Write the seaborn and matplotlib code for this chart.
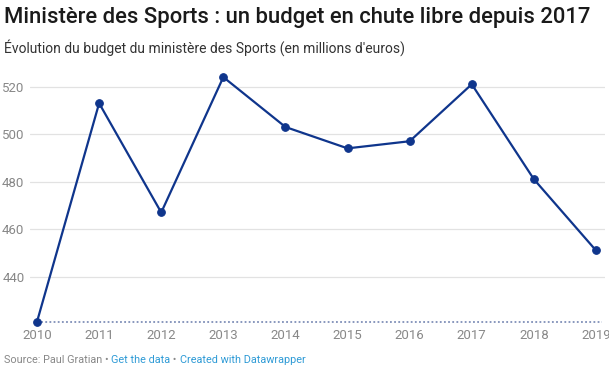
import numpy as np
import pandas as pd
import matplotlib
matplotlib.use("Agg")
import matplotlib.pyplot as plt
import seaborn as sns

# --- DATA --- #
years = [2010, 2011, 2012, 2013, 2014, 2015, 2016, 2017, 2018, 2019]
budget = [421, 513, 467, 524, 503, 494, 497, 521, 481, 451]
y_ticks = [440, 460, 480, 500, 520]

title = "Ministère des Sports : un budget en chute libre depuis 2017"
subtitle = "Évolution du budget du ministère des Sports (en millions d'euros)"

df = pd.DataFrame({"year": years, "budget": budget})

sns.set_theme(style="white")
plt.rcParams["font.family"] = ["Roboto", "DejaVu Sans"]

W, H = 609, 366
fig = plt.figure(figsize=(W / 100, H / 100), dpi=100)

# axes placed in pixel terms
left_px, right_px = 30, 605
top_px, bottom_px = 70, 321.7
ax = fig.add_axes([left_px / W, 1 - bottom_px / H,
                   (right_px - left_px) / W, (bottom_px - top_px) / H])

line_col = "#0f358c"
sns.lineplot(data=df, x="year", y="budget", ax=ax, color=line_col,
             linewidth=1.6, marker="o", markersize=5.5,
             markeredgecolor=line_col, markerfacecolor=line_col)
for ln in ax.lines:
    ln.set_clip_on(False)
    ln.set_zorder(5)

ax.set_xlim(2009.887, 2019.145)
ax.set_ylim(421, 527)

# --- GRID --- #
for t in y_ticks:
    ax.axhline(t, color="#e2e2e2", linewidth=0.9, zorder=1)
ax.plot([years[0], 2019.1], [min(budget), min(budget)], ls=(0, (1, 1.3)),
        color="#7f8fb8", linewidth=1.3, zorder=2, clip_on=False)

for s in ax.spines.values():
    s.set_visible(False)

ax.set_yticks(y_ticks)
ax.set_yticklabels([str(t) for t in y_ticks])
ax.set_xticks(years)
ax.set_xticklabels([str(y) for y in years])
ax.tick_params(axis="both", length=0, labelsize=9.5, labelcolor="#888888")
ax.tick_params(axis="y", pad=4)
ax.tick_params(axis="x", pad=5)
ax.set_xlabel("")
ax.set_ylabel("")

# --- TITLES --- #
fig.text(4 / W, 1 - 17 / H, title, fontsize=15.8, fontweight="medium",
         color="#1a1a1a", va="center", ha="left")
fig.text(4 / W, 1 - 48 / H, subtitle, fontsize=10, color="#333333",
         va="center", ha="left")

# --- FOOTER --- #
fig.canvas.draw()
renderer = fig.canvas.get_renderer()
parts = [("Source: Paul Gratian • ", "#888888"),
         ("Get the data", "#2f9bd6"),
         (" • ", "#888888"),
         ("Created with Datawrapper", "#2f9bd6")]
x = 4
for txt, col in parts:
    t = fig.text(x / W, 1 - 360 / H, txt, fontsize=7.8, color=col,
                 va="center", ha="left")
    bb = t.get_window_extent(renderer)
    x += bb.width

fig.savefig("out.png", dpi=100)
